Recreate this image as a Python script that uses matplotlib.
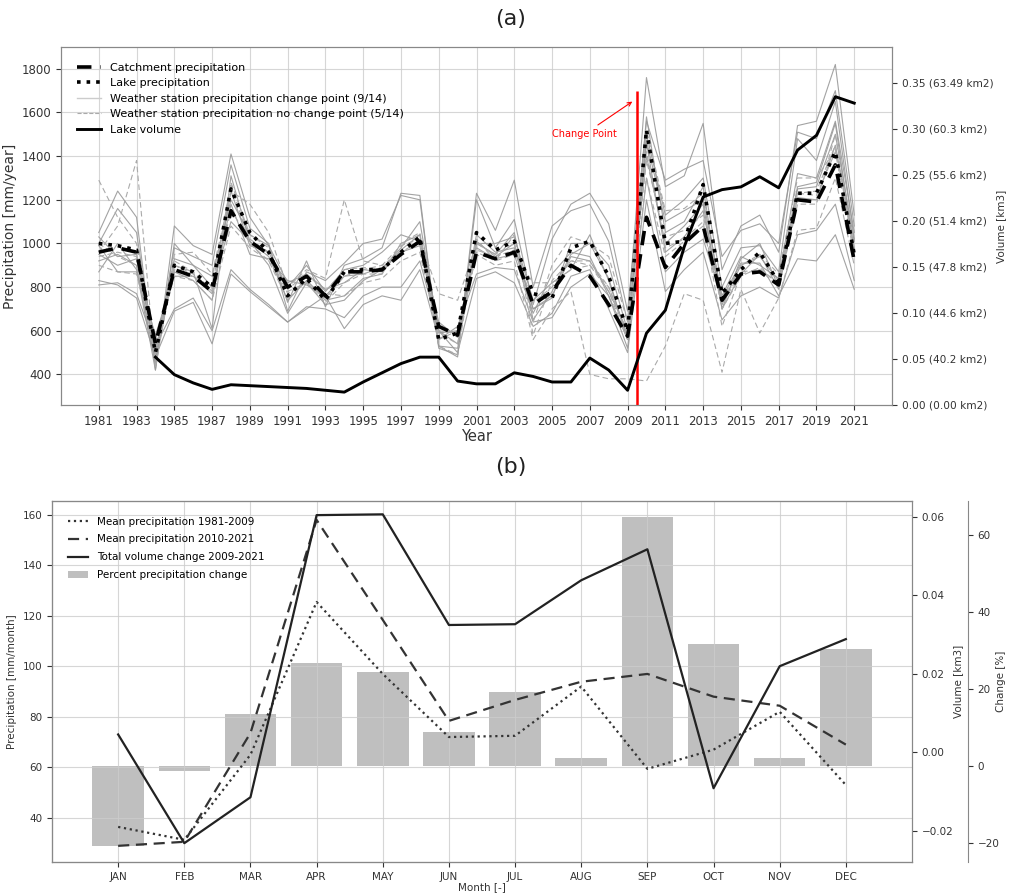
import matplotlib.pyplot as plt
import numpy as np

# ---- panel (a) data ----
years = list(range(1981, 2022))

catchment = [960, 980, 960, 540, 880, 850, 780, 1150, 1010, 950, 800, 850, 760, 870, 870, 880, 950,
             1010, 620, 580, 960, 930, 960, 720, 780, 900, 850, 720, 575, 1120, 890, 1000, 1080, 740,
             860, 870, 810, 1200, 1190, 1360, 920]
lake_precip = [1000, 990, 970, 500, 900, 870, 800, 1250, 1050, 960, 760, 840, 740, 870, 880, 880, 960,
               1030, 560, 590, 1050, 970, 1010, 770, 750, 980, 1010, 850, 600, 1520, 1000, 1010, 1270,
               770, 880, 960, 820, 1230, 1230, 1420, 950]

# stations with a change point (9/14)
stations_cp = [
    [1050, 1240, 1120, 420, 1080, 990, 950, 1410, 1120, 990, 730, 920, 710, 900, 930, 980, 1230, 1220, 520,
     490, 1230, 1060, 1290, 800, 1080, 1150, 1180, 1010, 640, 1760, 1260, 1310, 1550, 880, 1080, 1130, 960,
     1540, 1560, 1820, 1130],
    [1000, 1160, 1050, 470, 980, 940, 900, 1360, 1070, 1000, 690, 870, 830, 910, 1000, 1020, 1220, 1200, 530,
     480, 1200, 980, 1110, 720, 1020, 1180, 1230, 1090, 690, 1560, 1290, 1340, 1380, 940, 1060, 1090, 1000,
     1510, 1480, 1700, 1080],
    [830, 810, 750, 480, 690, 730, 540, 860, 780, 710, 640, 700, 760, 610, 720, 760, 740, 880, 560, 620, 860,
     890, 880, 640, 660, 800, 860, 760, 520, 1300, 870, 960, 1020, 750, 910, 910, 760, 930, 920, 1040, 790],
    [920, 950, 900, 450, 900, 870, 610, 1310, 1010, 940, 740, 830, 740, 760, 840, 860, 1000, 1040, 530, 520,
     1000, 950, 1050, 650, 780, 950, 1000, 840, 560, 1580, 1050, 1100, 1260, 700, 930, 1000, 800, 1250, 1260,
     1500, 1010],
    [1030, 940, 950, 560, 870, 830, 740, 1240, 990, 960, 800, 900, 780, 880, 900, 960, 1040, 1010, 640, 570,
     1000, 1000, 1030, 740, 820, 880, 1040, 830, 560, 1500, 1130, 1200, 1300, 800, 980, 990, 870, 1480, 1380,
     1650, 1020],
    [870, 1000, 880, 420, 1000, 900, 800, 1100, 1010, 900, 680, 820, 720, 740, 830, 880, 980, 1100, 600, 540,
     1010, 940, 1000, 700, 760, 940, 920, 780, 600, 1400, 1000, 1080, 1180, 700, 860, 950, 790, 1210, 1200,
     1450, 980],
    [990, 870, 870, 580, 850, 850, 770, 1180, 950, 930, 830, 810, 760, 850, 860, 890, 960, 990, 590, 600, 980,
     930, 950, 680, 860, 960, 940, 760, 560, 1460, 960, 1030, 1150, 720, 900, 940, 830, 1260, 1280, 1550, 960],
    [810, 820, 770, 530, 700, 750, 600, 880, 790, 720, 640, 710, 700, 660, 760, 800, 800, 920, 600, 500, 840,
     870, 820, 620, 680, 850, 880, 700, 500, 1200, 780, 880, 960, 650, 760, 800, 750, 1040, 1060, 1180, 830],
    [950, 900, 930, 500, 930, 900, 850, 1200, 1040, 990, 820, 860, 790, 820, 880, 870, 970, 1040, 620, 580,
     1040, 960, 980, 700, 750, 1000, 1000, 900, 600, 1470, 1100, 1150, 1200, 760, 940, 900, 840, 1320, 1300,
     1560, 1050],
]
# stations without a change point (5/14)
stations_nocp = [
    [1290, 1120, 1000, 490, 950, 960, 860, 1240, 1180, 1050, 800, 880, 840, 1200, 920, 900, 990, 1020, 770,
     740, 1000, 950, 1000, 640, 900, 1030, 1000, 940, 640, 1520, 1150, 1160, 1230, 740, 900, 950, 860, 1300,
     1300, 1430, 1050],
    [960, 1080, 1380, 430, 920, 870, 780, 1280, 1040, 980, 770, 820, 730, 820, 860, 860, 1000, 1050, 530, 490,
     1020, 920, 1040, 580, 830, 920, 920, 800, 580, 1380, 1030, 1060, 1130, 700, 850, 890, 810, 1230, 1240,
     1450, 960],
    [900, 870, 860, 520, 850, 830, 740, 1080, 980, 920, 780, 820, 770, 760, 820, 840, 920, 960, 560, 600, 950,
     900, 920, 560, 700, 780, 400, 380, 380, 370, 530, 770, 740, 410, 790, 590, 750, 1060, 1070, 1300, 900],
    [1000, 940, 900, 480, 880, 850, 800, 1270, 1000, 920, 740, 830, 750, 850, 880, 900, 960, 1000, 590, 540,
     960, 920, 950, 820, 820, 880, 900, 780, 560, 1420, 980, 1020, 1100, 620, 860, 880, 800, 1180, 1180, 1500,
     940],
    [940, 960, 940, 550, 900, 860, 790, 1150, 1020, 960, 790, 860, 780, 880, 890, 880, 960, 1010, 600, 590,
     970, 940, 970, 730, 800, 920, 900, 800, 580, 1300, 940, 1010, 1080, 720, 870, 880, 820, 1230, 1220, 1420,
     940],
]

vol_years = list(range(1984, 2022))
lake_volume = [0.052, 0.033, 0.024, 0.017, 0.022, 0.021, 0.020, 0.019, 0.018, 0.016, 0.014, 0.025, 0.035,
               0.045, 0.052, 0.052, 0.026, 0.023, 0.023, 0.035, 0.031, 0.025, 0.025, 0.051, 0.038, 0.016,
               0.078, 0.103, 0.172, 0.226, 0.234, 0.237, 0.248, 0.236, 0.277, 0.293, 0.335, 0.328]

vol_ticks = [0.00, 0.05, 0.10, 0.15, 0.20, 0.25, 0.30, 0.35]
vol_tick_labels = ["0.00 (0.00 km2)", "0.05 (40.2 km2)", "0.10 (44.6 km2)", "0.15 (47.8 km2)",
                   "0.20 (51.4 km2)", "0.25 (55.6 km2)", "0.30 (60.3 km2)", "0.35 (63.49 km2)"]
change_year = 2009.5

# ---- panel (b) data ----
months = ["JAN", "FEB", "MAR", "APR", "MAY", "JUN", "JUL", "AUG", "SEP", "OCT", "NOV", "DEC"]
mean_1981_2009 = [36.4, 31.3, 65, 125.5, 97, 72, 72.5, 92, 59.4, 67, 82, 53]
mean_2010_2021 = [28.9, 30.5, 73.6, 158, 118.4, 78.4, 86.7, 93.9, 97, 88, 84.4, 69]
volume_change = [0.0045, -0.0232, -0.0115, 0.0604, 0.0606, 0.0324, 0.0326, 0.0438, 0.0517, -0.0092,
                 0.0219, 0.0288]
percent_change = [-20.8, -1.3, 13.5, 26.8, 24.4, 8.8, 19.2, 2.1, 64.7, 31.7, 2.1, 30.4]

W, H = 1009, 893
fig = plt.figure(figsize=(W / 100, H / 100), dpi=100)
spine_col = '#888888'
txt_col = '#333333'
grid_kw = dict(color='#cccccc', linewidth=0.8, alpha=0.8)

# ================= panel (a) =================
ax1 = fig.add_axes([61 / W, 1 - 405 / H, (892 - 61) / W, (405 - 47) / H])
ax2 = ax1.twinx()

for s in stations_cp:
    ax1.plot(years, s, color='#999999', lw=0.8, alpha=0.9)
for s in stations_nocp:
    ax1.plot(years, s, color='#aaaaaa', lw=0.8, ls='--', dashes=(5, 3))
l_c, = ax1.plot(years, catchment, color='black', lw=2.6, ls='--', dashes=(4, 2.5))
l_l, = ax1.plot(years, lake_precip, color='black', lw=2.6, ls=':')
l_v, = ax2.plot(vol_years, lake_volume, color='black', lw=2.1)

ax1.vlines(change_year, 260, 1700, color='red', lw=1.8, zorder=5)
ax1.annotate('Change Point', xy=(2009.25, 1650), xytext=(2006.7, 1500), color='red', fontsize=7,
             ha='center', va='center',
             arrowprops=dict(arrowstyle='->', color='red', lw=0.8, shrinkA=2, shrinkB=0))

ax1.set_xlim(1979, 2023)
ax1.set_ylim(260, 1900)
ax2.set_ylim(0, 0.389)
ax1.set_xticks(list(range(1981, 2022, 2)))
ax1.set_yticks([400, 600, 800, 1000, 1200, 1400, 1600, 1800])
ax2.set_yticks(vol_ticks)
ax2.set_yticklabels(vol_tick_labels)
ax1.tick_params(labelsize=8.5, colors=txt_col)
ax2.tick_params(labelsize=7.6, colors=txt_col)
ax1.grid(True, **grid_kw)
ax1.set_xlabel('Year', fontsize=10.5, color=txt_col, labelpad=1)
ax1.set_ylabel('Precipitation [mm/year]', fontsize=10, color=txt_col, labelpad=3)
ax2.set_ylabel('Volume [km3]', fontsize=7.5, color=txt_col)
ax2.yaxis.set_label_coords((996 - 61) / 831, 0.5)
for ax in (ax1, ax2):
    for sp in ax.spines.values():
        sp.set_color(spine_col)

h_cp, = ax1.plot([], [], color='#cccccc', lw=1)
h_ncp, = ax1.plot([], [], color='#aaaaaa', lw=0.8, ls='--')
ax2.legend([l_c, l_l, h_cp, h_ncp, l_v],
           ['Catchment precipitation', 'Lake precipitation',
            'Weather station precipitation change point (9/14)',
            'Weather station precipitation no change point (5/14)', 'Lake volume'],
           loc='upper left', fontsize=8, frameon=False, handlelength=2.2,
           borderaxespad=1.0, labelspacing=0.5)

fig.text(0.506, 0.979, '(a)', fontsize=16, ha='center', va='center', color='#222222')
fig.text(0.506, 0.477, '(b)', fontsize=16, ha='center', va='center', color='#222222')

# ================= panel (b) =================
x = np.arange(len(months))
bx = fig.add_axes([52 / W, 1 - 862 / H, (912 - 52) / W, (862 - 501) / H])
bch = bx.twinx()
bvol = bx.twinx()
bch.spines['right'].set_position(('axes', 1 + 56 / 860))

bars = bch.bar(x, percent_change, width=0.78, color='#bfbfbf')
bch.set_zorder(0)
bx.set_zorder(1)
bvol.set_zorder(2)
bx.patch.set_visible(False)
bvol.patch.set_visible(False)

p1, = bx.plot(x, mean_1981_2009, color='#333333', lw=1.6, ls=':')
p2, = bx.plot(x, mean_2010_2021, color='#333333', lw=1.6, ls='--', dashes=(5, 3))
p3, = bvol.plot(x, volume_change, color='#222222', lw=1.6)

bx.set_xlim(-1, 12)
bx.set_ylim(22.5, 165.5)
bvol.set_ylim(-0.028, 0.064)
bch.set_ylim(-24.9, 68.8)
bx.set_xticks(x)
bx.set_xticklabels(months)
bx.set_yticks([40, 60, 80, 100, 120, 140, 160])
bvol.set_yticks([-0.02, 0.00, 0.02, 0.04, 0.06])
bch.set_yticks([-20, 0, 20, 40, 60])
for ax in (bx, bch, bvol):
    ax.tick_params(labelsize=7.5, colors=txt_col)
    for sp in ax.spines.values():
        sp.set_color(spine_col)
bx.grid(True, **grid_kw)
bx.set_xlabel('Month [-]', fontsize=7.5, color=txt_col, labelpad=0)
bx.set_ylabel('Precipitation [mm/month]', fontsize=7.5, color=txt_col)
bvol.set_ylabel('Volume [km3]', fontsize=7.5, color=txt_col)
bvol.yaxis.set_label_coords((953 - 52) / 860, 0.5)
bch.set_ylabel('Change [%]', fontsize=7.5, color=txt_col)
bch.yaxis.set_label_coords((996 - 52) / 860, 0.5)

bvol.legend([p1, p2, p3, bars],
            ['Mean precipitation 1981-2009', 'Mean precipitation 2010-2021',
             'Total volume change 2009-2021', 'Percent precipitation change'],
            loc='upper left', fontsize=7.5, frameon=False, borderaxespad=1.1, labelspacing=0.75)

fig.savefig('out.png', dpi=100)
